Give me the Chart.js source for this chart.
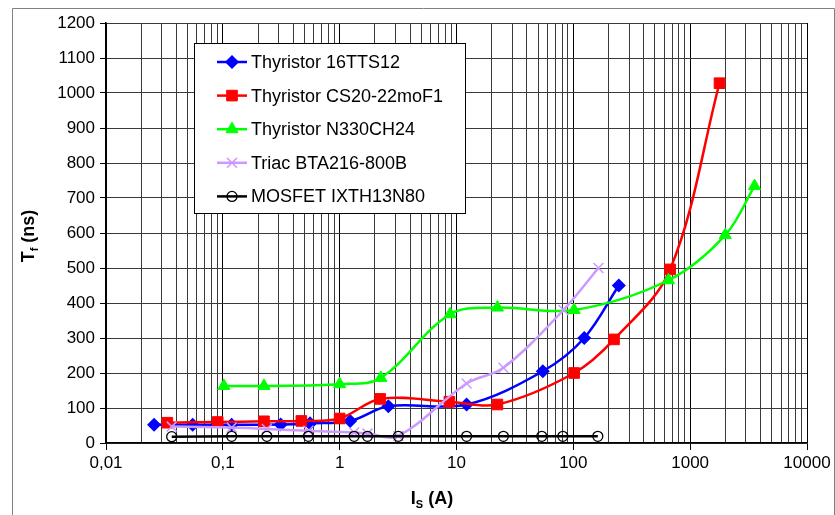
<!DOCTYPE html>
<html><head><meta charset="utf-8">
<script src="https://cdn.jsdelivr.net/npm/chart.js@4/dist/chart.umd.min.js"></script>
<style>html,body{margin:0;padding:0;background:#fff}</style>
</head><body>
<canvas id="c" width="835" height="515"></canvas>
<script>
// ---- data ----
const xTickLabels = ['0,01','0,1','1','10','100','1000','10000'];
const seriesNames = ['Thyristor 16TTS12','Thyristor CS20-22moF1','Thyristor N330CH24','Triac BTA216-800B','MOSFET IXTH13N80'];

const thy16X = [0.0258, 0.0552, 0.119, 0.313, 0.558, 1.23, 2.61, 12.2, 54.8, 124, 245];
const thy16Y = [52, 52, 52, 53, 56, 63, 105, 110, 205, 300, 450];

const cs20X = [0.0335, 0.0904, 0.225, 0.470, 1.0, 2.22, 8.69, 22.4, 101.6, 223, 674, 1782];
const cs20Y = [58, 60, 62, 63, 70, 126, 118, 110, 200, 296, 496, 1028];

const n330X = [0.102, 0.225, 1.0, 2.25, 8.81, 22.4, 101.6, 652, 1995, 3556];
const n330Y = [163, 163, 168, 186, 368, 387, 380, 465, 594, 734];

const triacX = [0.0365, 0.119, 0.238, 0.540, 1.33, 1.73, 3.18, 12.2, 25.2, 82.3, 164];
const triacY = [47, 44, 40, 35, 30, 27, 20, 170, 215, 380, 500];

const mosX = [0.0365, 0.119, 0.238, 0.540, 1.33, 1.73, 3.18, 12.2, 25.2, 53.7, 81.3, 162];
const mosY = [18, 19, 19, 19, 19, 19, 19, 19, 19, 19, 19, 19];

const yTickMin = 0, yTickMax = 1200, yTickStep = 100;

// ---- build ----
const pts = (xs, ys) => xs.map((x, i) => ({x: x, y: ys[i]}));
const FONT = "'Liberation Sans', Arial, sans-serif";

const styles = [
  {color:'#0000FF', pointStyle:'rectRot', radius:6, fill:'#0000FF', bw:1.5},
  {color:'#FF0000', pointStyle:'rect', radius:7.5, fill:'#FF0000', bw:1},
  {color:'#00FF00', pointStyle:'triangle', radius:7, fill:'#00FF00', bw:1},
  {color:'#CC99FF', pointStyle:'crossRot', radius:7, fill:'#CC99FF', bw:1.5},
  {color:'#000000', pointStyle:'circle', radius:5, fill:'rgba(0,0,0,0)', bw:1.3}
];
const xsAll = [thy16X, cs20X, n330X, triacX, mosX];
const ysAll = [thy16Y, cs20Y, n330Y, triacY, mosY];

const datasets = seriesNames.map((name, i) => ({
  label: name,
  data: pts(xsAll[i], ysAll[i]),
  borderColor: styles[i].color,
  backgroundColor: styles[i].fill,
  borderWidth: 2.5,
  tension: 0.35,
  pointStyle: styles[i].pointStyle,
  pointRadius: styles[i].radius,
  pointHoverRadius: styles[i].radius,
  pointBorderColor: styles[i].color,
  pointBackgroundColor: styles[i].fill,
  pointBorderWidth: styles[i].bw,
  order: 5 - i
}));

function drawMarker(ctx, st, x, y) {
  ctx.save();
  ctx.fillStyle = st.fill; ctx.strokeStyle = st.color; ctx.lineWidth = st.bw;
  if (Chart.helpers && Chart.helpers.drawPoint) {
    Chart.helpers.drawPoint(ctx, {pointStyle: st.pointStyle, radius: st.radius, rotation: 0, borderWidth: st.bw}, x, y);
  }
  ctx.restore();
}

const decor = {
  id: 'decor',
  beforeDraw(chart) {
    const ctx = chart.ctx;
    ctx.save();
    ctx.fillStyle = '#fff';
    ctx.fillRect(0, 0, chart.width, chart.height);
    ctx.strokeStyle = '#808080'; ctx.lineWidth = 1;
    ctx.beginPath();
    ctx.moveTo(12.5, 515); ctx.lineTo(12.5, 8.5); ctx.lineTo(834.5, 8.5); ctx.lineTo(834.5, 515);
    ctx.stroke();
    ctx.restore();
  },
  afterDraw(chart) {
    const ctx = chart.ctx;
    ctx.save();
    // legend
    ctx.fillStyle = '#fff';
    ctx.fillRect(194.5, 43.5, 271, 170);
    ctx.strokeStyle = '#000'; ctx.lineWidth = 1;
    ctx.strokeRect(194.5, 43.5, 271, 170);
    ctx.font = '18px ' + FONT;
    ctx.textBaseline = 'middle'; ctx.textAlign = 'left';
    seriesNames.forEach((name, i) => {
      const y = 62 + i * 33.6;
      ctx.strokeStyle = styles[i].color; ctx.lineWidth = 2.5;
      ctx.beginPath(); ctx.moveTo(217, y); ctx.lineTo(247, y); ctx.stroke();
      drawMarker(ctx, styles[i], 232, y);
      ctx.fillStyle = '#000';
      ctx.fillText(name, 251, y + 1);
    });
    // y title: T_f (ns)
    ctx.save();
    ctx.translate(28, 236);
    ctx.rotate(-Math.PI / 2);
    const big = 'bold 18px ' + FONT, small = 'bold 11px ' + FONT;
    ctx.font = big; const w1 = ctx.measureText('T').width;
    ctx.font = small; const w2 = ctx.measureText('f').width;
    ctx.font = big; const w3 = ctx.measureText(' (ns)').width;
    let sx = -(w1 + w2 + w3) / 2;
    ctx.fillStyle = '#000'; ctx.textBaseline = 'alphabetic';
    ctx.font = big; ctx.fillText('T', sx, 6);
    ctx.font = small; ctx.fillText('f', sx + w1, 10);
    ctx.font = big; ctx.fillText(' (ns)', sx + w1 + w2, 6);
    ctx.restore();
    // x title: I_S (A)
    ctx.font = big; const v1 = ctx.measureText('I').width;
    ctx.font = small; const v2 = ctx.measureText('S').width;
    ctx.font = big; const v3 = ctx.measureText(' (A)').width;
    let tx = 432 - (v1 + v2 + v3) / 2;
    ctx.fillStyle = '#000'; ctx.textBaseline = 'alphabetic';
    ctx.font = big; ctx.fillText('I', tx, 504);
    ctx.font = small; ctx.fillText('S', tx + v1, 508);
    ctx.font = big; ctx.fillText(' (A)', tx + v1 + v2, 504);
    ctx.restore();
  }
};

const isDecade = v => Math.abs(Math.log10(v) - Math.round(Math.log10(v))) < 1e-6;

new Chart(document.getElementById('c'), {
  type: 'line',
  data: {datasets},
  plugins: [decor],
  options: {
    responsive: false,
    animation: false,
    events: [],
    layout: {padding: {left: 0, right: 28, top: 23, bottom: 0}},
    plugins: {legend: {display: false}, tooltip: {enabled: false}},
    scales: {
      x: {
        type: 'logarithmic',
        min: 0.01, max: 10000,
        afterBuildTicks(scale) {
          const t = [];
          for (let e = -2; e <= 4; e++) {
            for (let m = 1; m <= 9; m++) {
              const v = m * Math.pow(10, e);
              if (v > 10000 + 1e-9) break;
              t.push({value: parseFloat(v.toPrecision(6))});
            }
          }
          scale.ticks = t;
        },
        afterFit(scale) { scale.height = 72; },
        ticks: {
          autoSkip: false, maxRotation: 0, minRotation: 0, padding: 3,
          color: '#000', font: {family: FONT, size: 17},
          callback(value) {
            if (!isDecade(value)) return '';
            const e = Math.round(Math.log10(value));
            return xTickLabels[e + 2];
          }
        },
        grid: {
          color: ctx => (ctx.tick && isDecade(ctx.tick.value)) ? '#000' : '#3a3a3a',
          tickColor: ctx => (ctx.tick && isDecade(ctx.tick.value)) ? '#000' : 'rgba(0,0,0,0)',
          tickLength: 7, lineWidth: 1
        },
        border: {color: '#000', width: 1.5}
      },
      y: {
        type: 'linear',
        min: yTickMin, max: yTickMax,
        afterFit(scale) { scale.width = 106; },
        ticks: {stepSize: yTickStep, padding: 5, color: '#000', font: {family: FONT, size: 17},
          callback: v => String(v)},
        grid: {color: '#3a3a3a', tickColor: '#000', tickLength: 6, lineWidth: 1},
        border: {color: '#000', width: 1.5}
      }
    }
  }
});
</script>
</body></html>
